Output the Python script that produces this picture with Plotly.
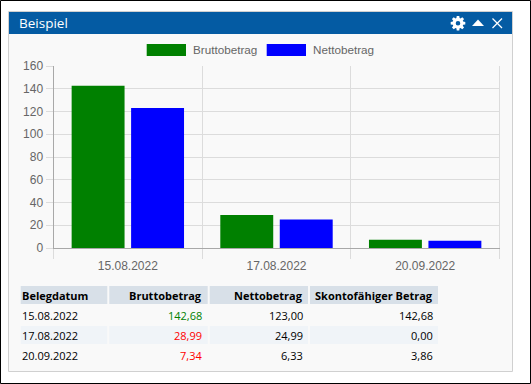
import math
import plotly.graph_objects as go

W, H = 531, 384
title = "Beispiel"
categories = ["15.08.2022", "17.08.2022", "20.09.2022"]
series_names = ["Bruttobetrag", "Nettobetrag"]
brutto = [142.68, 28.99, 7.34]
netto = [123.00, 24.99, 6.33]
skonto = [142.68, 0.00, 3.86]
y_ticks = [0, 20, 40, 60, 80, 100, 120, 140, 160]
table_header = ["Belegdatum", "Bruttobetrag", "Nettobetrag", "Skontofähiger Betrag"]
table_dates = categories
table_brutto = ["142,68", "28,99", "7,34"]
table_netto = ["123,00", "24,99", "6,33"]
table_skonto = ["142,68", "0,00", "3,86"]
brutto_colors = ["#008000", "#ff0000", "#ff0000"]
series_colors = ["#008000", "#0000ff"]

def px(v): return v / W
def py(v): return 1 - v / H

shapes, ann = [], []
def rect(x0, y0, x1, y1, fill, line=None, lw=0, layer="below"):
    shapes.append(dict(type="rect", xref="paper", yref="paper", x0=px(x0), x1=px(x1), y0=py(y0), y1=py(y1),
                       fillcolor=fill, line=dict(color=line or fill, width=lw), layer=layer))
def text(x, y, s, color, size, family, anchor="left", bold=False):
    ann.append(dict(xref="paper", yref="paper", x=px(x), y=py(y), text=f"<b>{s}</b>" if bold else s, showarrow=False,
                    xanchor=anchor, yanchor="middle", borderpad=0, borderwidth=0,
                    font=dict(color=color, size=size, family=family)))

# outer frame and panel
rect(0.5, 0.5, 530.5, 383.5, "#ffffff", "#000000", 1)
rect(8.5, 11.5, 512.5, 371.5, "#f9f9f9", "#d0d0d0", 1)
rect(9, 12, 512, 34, "#045ba3")
text(19, 23.5, title, "#ffffff", 13.5, "Open Sans")

# gear icon: eight teeth around a solid disc, with a hole
cx, cy, ro, ri = 458, 23.2, 7.4, 5.4
pts = []
for k in range(8):
    a = k * math.pi / 4
    for da, r in [(-0.30, ri), (-0.17, ro), (0.17, ro), (0.30, ri)]:
        pts.append((cx + r * math.cos(a + da), cy + r * math.sin(a + da)))
gear = "M " + " L ".join(f"{px(x)} {py(y)}" for x, y in pts) + " Z"
shapes.append(dict(type="path", xref="paper", yref="paper", path=gear, fillcolor="#ffffff", line=dict(width=0)))
shapes.append(dict(type="circle", xref="paper", yref="paper", x0=px(cx - 2.3), x1=px(cx + 2.3),
                   y0=py(cy - 2.3), y1=py(cy + 2.3), fillcolor="#045ba3", line=dict(width=0)))
shapes.append(dict(type="path", xref="paper", yref="paper",
                   path=f"M {px(472)} {py(26)} L {px(484)} {py(26)} L {px(478)} {py(19.5)} Z",
                   fillcolor="#ffffff", line=dict(width=0)))
for a, b, c, d in [(492.5, 18.5, 502, 28), (492.5, 28, 502, 18.5)]:
    shapes.append(dict(type="line", xref="paper", yref="paper", x0=px(a), y0=py(b), x1=px(c), y1=py(d),
                       line=dict(color="#ffffff", width=1.3)))

# legend
for x0, name, col in zip([146.7, 266.7], series_names, series_colors):
    rect(x0, 44, x0 + 39.3, 56, col)
    text(x0 + 46, 49.3, name, "#666666", 11.7, "Liberation Sans")

# right-hand border of the chart grid
shapes.append(dict(type="line", xref="paper", yref="paper", x0=px(499.5), x1=px(499.5), y0=py(66), y1=py(258),
                   line=dict(color="#dcdcdc", width=1), layer="below"))

# table
col_x = [(20.7, 107.3), (109.3, 207.7), (209.7, 308), (310, 438)]
for (x0, x1), h, i in zip(col_x, table_header, range(4)):
    rect(x0, 286, x1, 304, "#d8e0e8")
    rect(x0, 326, x1, 344, "#f0f4f8")
    if i == 0:
        text(x0 + 1, 295.5, h, "#000000", 11, "Open Sans", bold=True)
    else:
        text(x1 - 5.3, 295.5, h, "#000000", 11, "Open Sans", "right", bold=True)
row_y = [315.5, 335.5, 355.5]
for r, y in enumerate(row_y):
    text(col_x[0][0] + 1, y, table_dates[r], "#000000", 11, "Open Sans")
    text(col_x[1][1] - 5.5, y, table_brutto[r], brutto_colors[r], 11, "Open Sans", "right")
    text(col_x[2][1] - 5, y, table_netto[r], "#000000", 11, "Open Sans", "right")
    text(col_x[3][1] - 5, y, table_skonto[r], "#000000", 11, "Open Sans", "right")

fig = go.Figure()
for name, vals, col in zip(series_names, [brutto, netto], series_colors):
    fig.add_bar(x=categories, y=vals, name=name, marker=dict(color=col, line=dict(width=0)))

fig.update_layout(
    width=W, height=H, margin=dict(l=0, r=0, t=0, b=0, autoexpand=False), autosize=False,
    paper_bgcolor="#ffffff", plot_bgcolor="rgba(0,0,0,0)", showlegend=False,
    barmode="group", bargap=0.2, bargroupgap=0.11,
    shapes=shapes, annotations=ann,
    xaxis=dict(domain=[53.5 / W, 499.5 / W], anchor="y", type="category", tickson="boundaries", ticks="outside",
               ticklen=10, tickcolor="#dcdcdc", gridcolor="#dcdcdc", showgrid=True, gridwidth=1, showline=True,
               linecolor="#a8a8a8", tickfont=dict(color="#666666", size=12, family="Liberation Sans"),
               ticklabelstandoff=7, mirror=False, zeroline=False, automargin=False),
    yaxis=dict(domain=[1 - 248 / H, 1 - 66 / H], anchor="x", range=[0, 160], tickvals=y_ticks, ticks="outside",
               ticklen=7, tickcolor="#dcdcdc", gridcolor="#dcdcdc", gridwidth=1, showline=True, linecolor="#a8a8a8",
               tickfont=dict(color="#666666", size=12, family="Liberation Sans"), zeroline=False, automargin=False),
)
fig.write_html("out.html", post_script="document.body.style.margin='0';document.body.style.overflow='hidden';",
               config=dict(displayModeBar=False))
